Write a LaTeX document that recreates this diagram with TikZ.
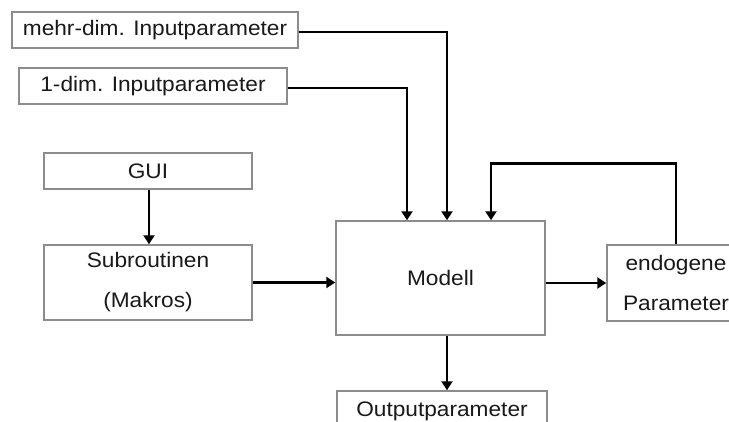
\documentclass[tikz,border=0pt]{standalone}
\usepackage{fontspec}
\usepackage{graphicx}
\setmainfont{Liberation Sans}
\usetikzlibrary{arrows.meta}
\newcommand{\hs}[1]{\scalebox{1.08}[1]{#1}}
\tikzset{
  box/.style={draw=black!45, line width=1.5pt, fill=white, inner sep=0pt,
    text=black!90, font=\fontsize{21}{40}\selectfont, align=center},
  arr/.style={draw=black, line width=2.8pt, -{Triangle[length=9pt,width=11pt]}},
}
\begin{document}
\begin{tikzpicture}[x=1pt,y=-1pt]
\clip (0,0) rectangle (729,421);
\fill[white] (0,0) rectangle (729,421);
\node[box, minimum width=286pt, minimum height=36pt] (mehr) at (155,30) {\hs{mehr-dim. Inputparameter}};
\node[box, minimum width=268pt, minimum height=36pt] (eins) at (153,86) {\hs{1-dim. Inputparameter}};
\node[box, minimum width=208pt, minimum height=36pt] (gui) at (148,171) {\hs{GUI}};
\node[box, minimum width=208pt, minimum height=75pt] (sub) at (148,282.5) {\hs{Subroutinen}\\\hs{(Makros)}};
\node[box, minimum width=209pt, minimum height=114pt] (modell) at (440.5,278) {\hs{Modell}};
\node[box, minimum width=138pt, minimum height=76pt] (endo) at (676,283) {\hs{endogene}\\\hs{Parameter}};
\node[box, minimum width=210pt, minimum height=40pt] (out) at (442,411) {\hs{Outputparameter}};
\coordinate (inA) at ([xshift=6.5pt]modell.north);
\coordinate (inB) at ([xshift=-33.5pt]modell.north);
\coordinate (inC) at ([xshift=50.5pt]modell.north);
\coordinate (outA) at ([xshift=6.5pt]modell.south);
\coordinate (fbTop) at ([yshift=81pt]endo.north);
\draw[arr] ([yshift=-2pt]mehr.east) -| (inA);
\draw[arr] ([yshift=-2pt]eins.east) -| (inB);
\draw[arr] ([xshift=1pt]gui.south) -- ([xshift=1pt]sub.north);
\draw[arr] (sub.east) -- (sub.east -| modell.west);
\draw[arr] (modell.east |- endo.west) -- (endo.west);
\draw[arr] (endo.north) -- (fbTop) -| (inC);
\draw[arr] (outA) -- (outA |- out.north);
\end{tikzpicture}
\end{document}
